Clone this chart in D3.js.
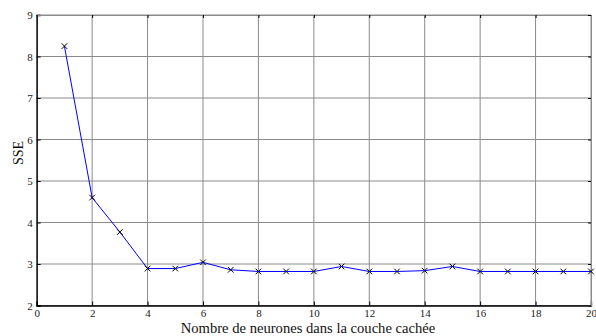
<!DOCTYPE html>
<html><head><meta charset="utf-8">
<script src="https://cdn.jsdelivr.net/npm/d3@7"></script>
<style>body{margin:0;background:#fff}svg{display:block}</style>
</head><body>
<svg id="c" width="596" height="336"></svg>
<script>
const neurons = [1,2,3,4,5,6,7,8,9,10,11,12,13,14,15,16,17,18,19,20];
const sse = [8.25,4.6,3.77,2.89,2.89,3.04,2.86,2.82,2.82,2.82,2.94,2.82,2.82,2.84,2.94,2.82,2.82,2.82,2.82,2.82];
const xTicks = [0,2,4,6,8,10,12,14,16,18,20];
const yTicks = [2,3,4,5,6,7,8,9];

const svg = d3.select('#c');
const L=36.7,R=591,T=15,B=305.5;
const x = d3.scaleLinear().domain([0,20]).range([L,R]);
const y = d3.scaleLinear().domain([2,9]).range([B,T]);
const font = "'Liberation Serif','Times New Roman',serif";

const g = svg.append('g');
// grid
g.selectAll('.gx').data(xTicks).enter().append('line')
 .attr('x1',d=>x(d)).attr('x2',d=>x(d)).attr('y1',T).attr('y2',B)
 .attr('stroke','#8a8a8a').attr('stroke-width',1);
g.selectAll('.gy').data(yTicks).enter().append('line')
 .attr('y1',d=>y(d)).attr('y2',d=>y(d)).attr('x1',L).attr('x2',R)
 .attr('stroke','#8a8a8a').attr('stroke-width',1);

// axes
const ax = d3.axisBottom(x).tickValues(xTicks).tickSize(-4).tickPadding(4).tickFormat(d3.format('d'));
const ay = d3.axisLeft(y).tickValues(yTicks).tickSize(-4).tickPadding(4).tickFormat(d3.format('d'));
const axT = d3.axisTop(x).tickValues(xTicks).tickSize(-3).tickFormat('');
const ayR = d3.axisRight(y).tickValues(yTicks).tickSize(-3).tickFormat('');
const gb = svg.append('g').attr('transform',`translate(0,${B})`).call(ax);
const gl = svg.append('g').attr('transform',`translate(${L},0)`).call(ay);
const gt = svg.append('g').attr('transform',`translate(0,${T})`).call(axT);
const gr = svg.append('g').attr('transform',`translate(${R},0)`).call(ayR);
[gb,gl].forEach(a=>{a.select('.domain').attr('stroke','#000').attr('stroke-width',1.3);
 a.selectAll('.tick line').attr('stroke','#000');
 a.selectAll('text').attr('font-family',font).attr('font-size',11).attr('fill','#222');});
[gt,gr].forEach(a=>{a.select('.domain').attr('stroke','#8a8a8a');
 a.selectAll('.tick line').attr('stroke','#000');});
gl.selectAll('text').attr('dy','0.35em');

// line
const line = d3.line().x((d,i)=>x(neurons[i])).y(d=>y(d));
svg.append('path').datum(sse).attr('d',line).attr('fill','none').attr('stroke','#0000ff').attr('stroke-width',1);
// markers
const s=2.8;
svg.selectAll('.m').data(sse).enter().append('path')
 .attr('d',(d,i)=>{const cx=x(neurons[i]),cy=y(d);return `M${cx-s},${cy-s}L${cx+s},${cy+s}M${cx-s},${cy+s}L${cx+s},${cy-s}`;})
 .attr('stroke','#000').attr('stroke-width',1);

// labels
svg.append('text').attr('x',308).attr('y',333).attr('text-anchor','middle')
 .attr('font-family',font).attr('font-size',14.6).attr('fill','#111').text('Nombre de neurones dans la couche cachée');
svg.append('text').attr('transform',`translate(23,153) rotate(-90)`).attr('text-anchor','middle')
 .attr('font-family',font).attr('font-size',14).attr('fill','#111').text('SSE');
</script>
</body></html>
